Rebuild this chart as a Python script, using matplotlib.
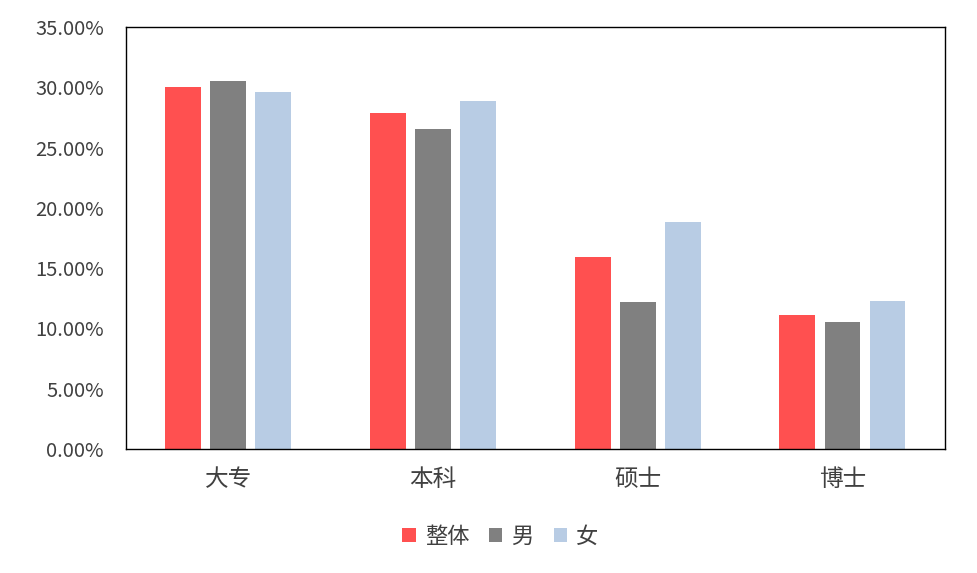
import matplotlib
matplotlib.use("Agg")
import matplotlib.pyplot as plt
import numpy as np
from matplotlib.ticker import FuncFormatter

# Data
categories = ["大专", "本科", "硕士", "博士"]
series_names = ["整体", "男", "女"]
overall = [30.0, 27.9, 15.95, 11.15]
male = [30.5, 26.55, 12.2, 10.55]
female = [29.6, 28.85, 18.85, 12.3]

COLORS = ["#FF5050", "#808080", "#B8CCE4"]

plt.rcParams["font.family"] = ["Noto Sans CJK SC", "DejaVu Sans"]

fig = plt.figure(figsize=(9.77, 5.73), dpi=100)
ax = fig.add_axes([0.129, 0.2164, 0.838, 0.7365])

x = np.arange(len(categories))
width = 0.175
step = 0.22
for i, (vals, name) in enumerate(zip([overall, male, female], series_names)):
    ax.bar(x + (i - 1) * step, vals, width, color=COLORS[i], label=name)

ax.set_xlim(-0.5, len(categories) - 0.5)
ax.set_ylim(0, 35)
ax.set_yticks(np.arange(0, 36, 5))
ax.yaxis.set_major_formatter(FuncFormatter(lambda v, _: f"{v:.2f}%"))
ax.set_xticks(x)
ax.set_xticklabels(categories, fontsize=17, color="#404040")
ax.tick_params(axis="y", labelsize=14.5, colors="#404040", length=0, pad=16)
ax.tick_params(axis="x", length=0, pad=14)

for spine in ax.spines.values():
    spine.set_color("black")
    spine.set_linewidth(1.0)

handles, labels = ax.get_legend_handles_labels()
fig.legend(handles, labels, loc="center", bbox_to_anchor=(0.512, 0.064), ncol=3,
           frameon=False, fontsize=16, handlelength=0.6, handleheight=0.6,
           handletextpad=0.4, columnspacing=0.9, labelcolor="#404040")

fig.savefig("out.png", dpi=100)
